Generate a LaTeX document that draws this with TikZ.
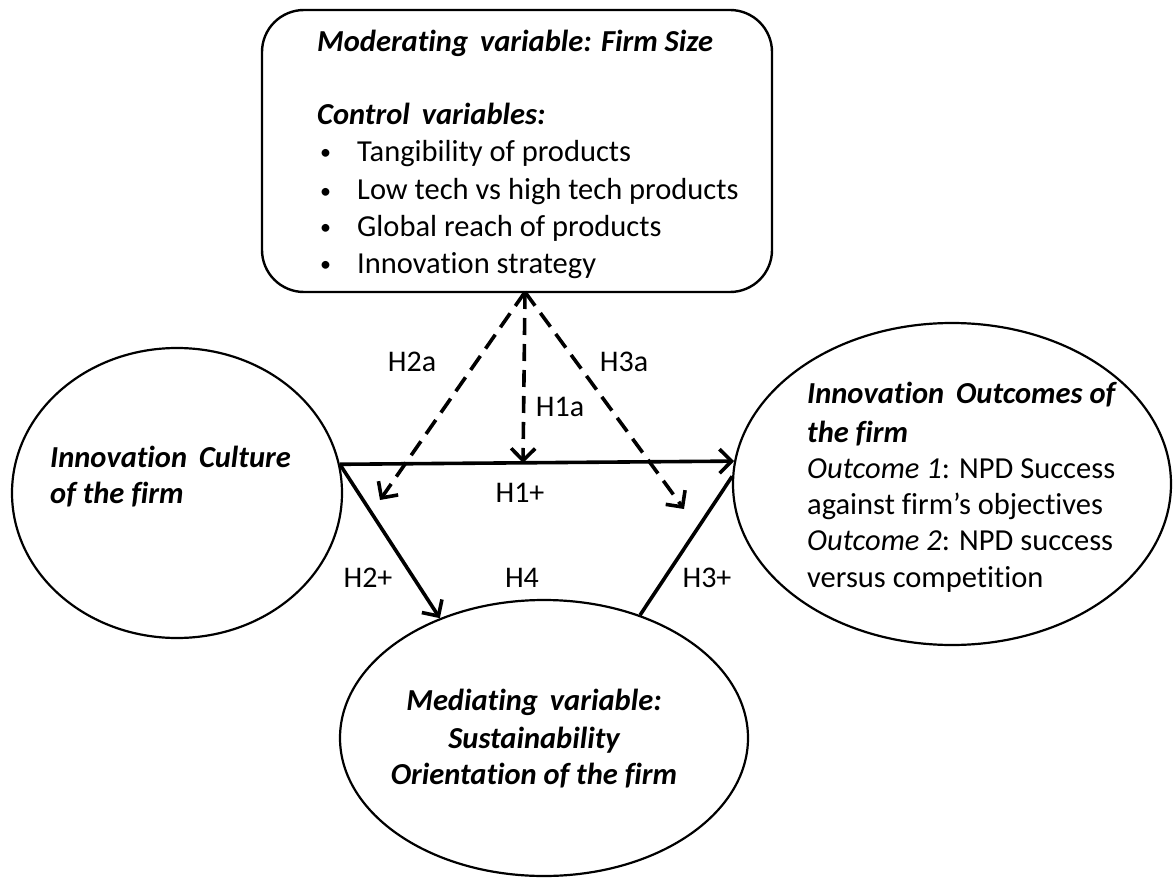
\documentclass[tikz,border=0pt]{standalone}
\usepackage{fontspec}
\setmainfont{Carlito}[RawFeature={-liga}]
\usetikzlibrary{arrows.meta,shapes.geometric}
\begin{document}
\begin{tikzpicture}[x=1pt,y=-1pt,
  oval/.style={draw, ellipse, line width=2.2pt, inner sep=0pt},
  box/.style={draw, rectangle, rounded corners=42pt, line width=2.4pt, inner sep=0pt},
  txt/.style={anchor=base west, inner sep=0pt, font=\fontsize{30.5}{37}\selectfont},
  btxt/.style={anchor=base west, inner sep=0pt, font=\fontsize{30.5}{37}\selectfont\bfseries\itshape},
  ctxt/.style={anchor=base, inner sep=0pt, font=\fontsize{30.5}{37}\selectfont\bfseries\itshape},
  lbl/.style={inner sep=0pt, font=\fontsize{30}{36}\selectfont},
  solidarrow/.style={line width=3.6pt, -{Straight Barb[length=12pt,width=24pt,line width=3.6pt]}},
  solidline/.style={line width=3.6pt},
  dasharrow/.style={line width=3.6pt, dash pattern=on 17pt off 9pt, -{Straight Barb[length=12pt,width=24pt,line width=3.6pt]}}
]
\useasboundingbox (0,0) rectangle (1173,880);
\fill[white] (0,0) rectangle (1173,880);

% shapes
\node[box, minimum width=510pt, minimum height=282pt] (T) at (517,151) {};
\node[oval, minimum width=330pt, minimum height=290pt] (L) at (177,493) {};
\node[oval, minimum width=438pt, minimum height=322pt] (R) at (952,484) {};
\node[oval, minimum width=408pt, minimum height=276pt] (M) at (544,738) {};

% top box text
\node[btxt] (t1) at (317,52) {Moderating\, variable: Firm Size};
\node[btxt] (t2) at (317,125) {Control\, variables:};
\node[txt, font=\fontsize{22}{37}\selectfont] (b1) at (320,160) {\textbullet};
\node[txt, font=\fontsize{22}{37}\selectfont] (b2) at (320,198) {\textbullet};
\node[txt, font=\fontsize{22}{37}\selectfont] (b3) at (320,234) {\textbullet};
\node[txt, font=\fontsize{22}{37}\selectfont] (b4) at (320,271) {\textbullet};
\node[txt] (c1) at (357,162) {Tangibility of products};
\node[txt] (c2) at (357,200) {Low tech vs high tech products};
\node[txt] (c3) at (357,236) {Global reach of products};
\node[txt] (c4) at (357,273) {Innovation strategy};

% left ellipse text
\node[btxt] (l1) at (50,467) {Innovation\, Culture};
\node[btxt] (l2) at (50,503) {of the firm};

% right ellipse text
\node[btxt] (r1) at (807,403) {Innovation\, Outcomes of};
\node[btxt] (r2) at (807,442) {the firm};
\node[txt] (r3) at (807,478) {\textit{Outcome 1}: NPD Success};
\node[txt] (r4) at (807,514) {against firm’s objectives};
\node[txt] (r5) at (807,550) {\textit{Outcome 2}: NPD success};
\node[txt] (r6) at (807,587) {versus competition};

% bottom ellipse text
\node[ctxt] (m1) at (534,710) {Mediating\, variable:};
\node[ctxt] (m2) at (534,748) {Sustainability};
\node[ctxt] (m3) at (534,784) {Orientation of the firm};

% free ends of dashed arrows
\coordinate (apex) at (525,292);
\coordinate (e2a) at (380,500);
\coordinate (e1a) at (523,463);
\coordinate (e3a) at (684,509);

% connectors
\draw[solidarrow] (L.10.5) -- (R.174.8);
\draw[solidarrow] (L.10.5) -- (M.131.3);
\draw[solidline] (M.52.3) -- (R.178.2);
\draw[dasharrow] (apex) -- (e2a);
\draw[dasharrow] (apex) -- (e1a);
\draw[dasharrow] (apex) -- (e3a);

% labels
\node[lbl] (h2a) at (412,362) {H2a};
\node[lbl] (h1a) at (560,407) {H1a};
\node[lbl] (h3a) at (624,362) {H3a};
\node[lbl] (h1) at (520,493) {H1+};
\node[lbl] (h2) at (368,578) {H2+};
\node[lbl] (h4) at (522,578) {H4};
\node[lbl] (h3) at (707,578) {H3+};
\end{tikzpicture}
\end{document}
